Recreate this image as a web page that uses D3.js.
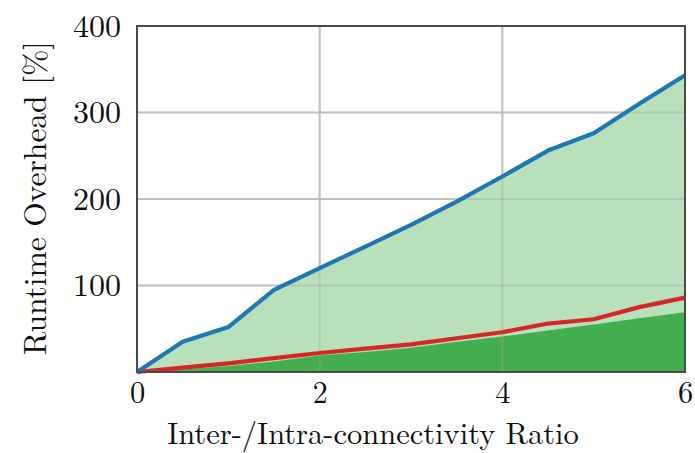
<!DOCTYPE html>
<html><head><meta charset="utf-8">
<script src="https://cdn.jsdelivr.net/npm/d3@7/dist/d3.min.js"></script>
<style>body{margin:0;background:#fff}svg text{font-family:"Latin Modern Roman","CMU Serif","Liberation Serif","DejaVu Serif",serif;fill:#111}</style>
</head><body>
<svg id="c" width="695" height="453"></svg>
<script>
const ratios   = [0, 0.5, 1, 1.5, 2, 2.5, 3, 3.5, 4, 4.5, 5, 5.5, 6];
const blueLine = [0, 35, 52, 95, 120, 145, 170, 197, 226, 256, 276, 310, 343];
const redLine  = [0, 5, 10, 16, 22, 27, 32, 39, 46, 56, 61, 75, 86];
const darkArea = [0, 3, 7, 12, 19, 23, 28, 35, 41, 48, 55, 62, 69];
const xTicks = [0, 2, 4, 6];
const yTicks = [100, 200, 300, 400];

const m = {l:137, r:685, t:26, b:372};
const svg = d3.select("#c");
const x = d3.scaleLinear().domain([0,6]).range([m.l, m.r]);
const y = d3.scaleLinear().domain([0,400]).range([m.b, m.t]);

function grid(col, op){
  svg.append("g").selectAll("line").data(xTicks.slice(1,-1)).join("line")
    .attr("x1", d=>x(d)).attr("x2", d=>x(d)).attr("y1", m.t).attr("y2", m.b)
    .attr("stroke", col).attr("stroke-opacity", op).attr("stroke-width", 2);
  svg.append("g").selectAll("line").data(yTicks.slice(0,-1)).join("line")
    .attr("y1", d=>y(d)).attr("y2", d=>y(d)).attr("x1", m.l).attr("x2", m.r)
    .attr("stroke", col).attr("stroke-opacity", op).attr("stroke-width", 2);
}
grid("#d2d2d2", 1);

const idx = d3.range(ratios.length);
svg.append("path").datum(idx)
  .attr("d", d3.area().x(i=>x(ratios[i])).y0(y(0)).y1(i=>y(blueLine[i])))
  .attr("fill", "#b8e0bb");
svg.append("path").datum(idx)
  .attr("d", d3.area().x(i=>x(ratios[i])).y0(y(0)).y1(i=>y(darkArea[i])))
  .attr("fill", "#44ad50");
grid("#a0a0a0", 0.35);

svg.append("path").datum(idx)
  .attr("d", d3.line().x(i=>x(ratios[i])).y(i=>y(redLine[i])))
  .attr("fill", "none").attr("stroke", "#d62728").attr("stroke-width", 4.2).attr("stroke-linejoin","round");
svg.append("path").datum(idx)
  .attr("d", d3.line().x(i=>x(ratios[i])).y(i=>y(blueLine[i])))
  .attr("fill", "none").attr("stroke", "#1f77b4").attr("stroke-width", 4.2).attr("stroke-linejoin","round");

svg.append("rect").attr("x", m.l).attr("y", m.t).attr("width", m.r-m.l).attr("height", m.b-m.t)
  .attr("fill", "none").attr("stroke", "#4a4a4a").attr("stroke-width", 2);

const xAxis = d3.axisBottom(x).tickValues(xTicks).tickSize(0).tickPadding(9).tickFormat(d3.format("d"));
const gx = svg.append("g").attr("transform", `translate(0,${m.b})`).call(xAxis);
gx.select(".domain").remove();
gx.selectAll("text").attr("font-size", 30.5).attr("dy", "0.71em");

const yAxis = d3.axisLeft(y).tickValues(yTicks).tickSize(0).tickPadding(16).tickFormat(d3.format("d"));
const gy = svg.append("g").attr("transform", `translate(${m.l},0)`).call(yAxis);
gy.select(".domain").remove();
gy.selectAll("text").attr("font-size", 32);

svg.append("text").attr("x", 373).attr("y", 443.5).attr("text-anchor","middle")
  .attr("font-size", 30.5).text("Inter-/Intra-connectivity Ratio");
svg.append("text").attr("transform", `translate(46,198) rotate(-90)`).attr("text-anchor","middle")
  .attr("font-size", 31.5).text("Runtime Overhead [%]");
</script>
</body></html>
